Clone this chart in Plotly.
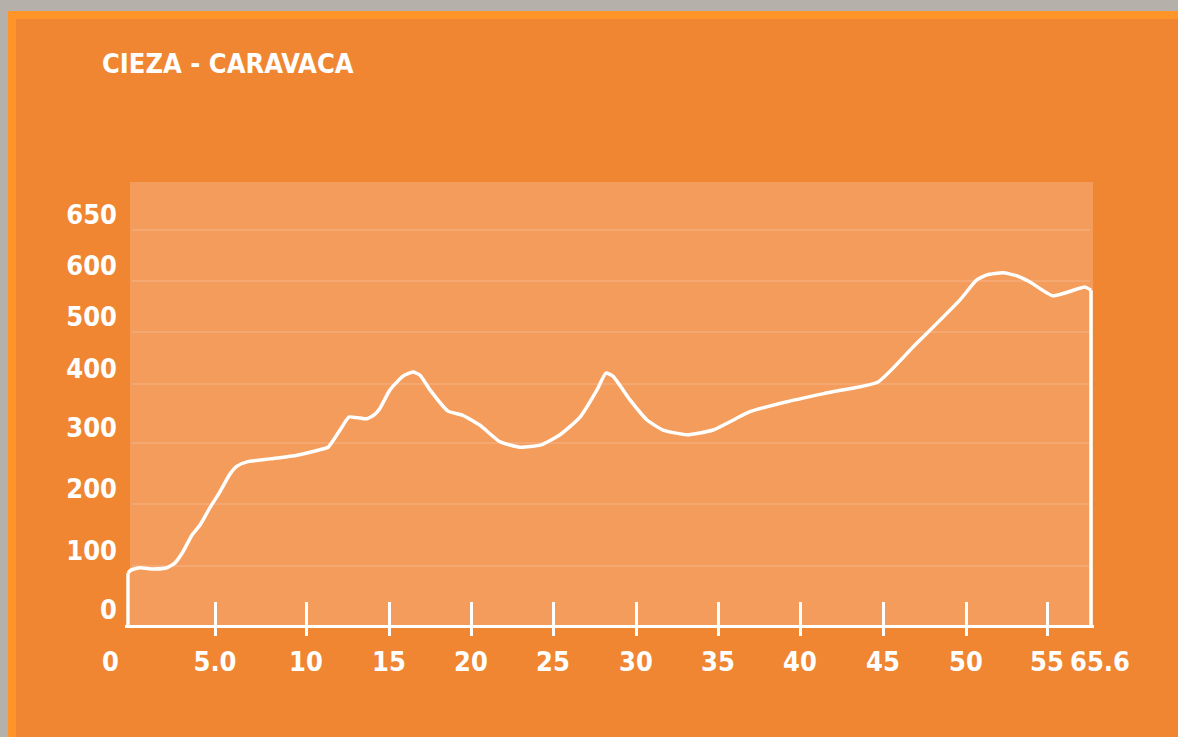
import numpy as np
import plotly.graph_objects as go

# ---------------- data ----------------
TITLE = "CIEZA - CARAVACA"

# distance (km) and elevation (m) of the route profile
KM = [0, 0, 0.17, 0.69, 1.44, 2.24, 2.70, 3.16, 3.68, 4.14, 4.71, 5.27, 5.82, 6.21, 6.76,
      8.02, 9.51, 10.84, 11.33, 12.05, 12.59, 13.07, 13.67, 14.16, 14.46, 15.06, 15.85,
      16.46, 16.89, 17.5, 18.6, 19.5, 20.55, 21.77, 22.99, 24.27, 25.42, 26.63, 27.65,
      28.19, 28.61, 29.64, 30.67, 31.65, 33.11, 34.7, 36.95, 39.21, 41.81, 44.7, 46.81,
      49.64, 50.66, 51.3, 52.28, 53.15, 53.95, 56.45, 64.16, 65.6, 65.6]
ELEV = [0, 88, 93, 97, 95, 97, 105, 123, 150, 166, 194, 220, 249, 262, 269,
        274, 280, 289, 293, 322, 344, 343, 341, 349, 359, 390, 415,
        423, 417, 390, 354, 347, 330, 302, 293, 297, 314, 344, 390,
        421, 415, 373, 339, 322, 314, 322, 353, 370, 386, 404, 471,
        563, 601, 606, 608, 605, 598, 571, 588, 582, 0]

X_TICK_KM = [0, 5, 10, 15, 20, 25, 30, 35, 40, 45, 50, 55, 65.6]
X_TICK_TEXT = ["0", "5.0", "10", "15", "20", "25", "30", "35", "40", "45", "50", "55", "65.6"]
Y_TICK_M = [0, 100, 200, 300, 400, 500, 600, 650]
Y_TICK_TEXT = ["0", "100", "200", "300", "400", "500", "600", "650"]

# ---------------- scale (the chart's own non-uniform axis scale) ----------------
W, H = 1178, 737
X_SCALE_POS = [128, 215, 306, 389, 471, 553, 636, 718, 800, 883, 966, 1047, 1091]
Y_SCALE_POS = [0, 59, 121, 182, 241, 293, 344, 395]


def sx(km):
    return np.interp(km, X_TICK_KM, X_SCALE_POS)


def sy(m):
    return np.interp(m, Y_TICK_M, Y_SCALE_POS)


# ---------------- styles ----------------
BG = "#F08632"
PLOT_BG = "#F39C5B"
BORDER = "#FF9429"
GRAY = "#B5B0AA"
GRID = "#F7B487"
WHITE = "#FFFFFF"
FONT = "Liberation Sans Narrow, DejaVu Sans Condensed, Roboto, Arial, sans-serif"
FS = 27

X0, X1 = 125, 1094        # plot area in px
YT, YB = 182, 625

fig = go.Figure()

# smooth profile curve
fig.add_trace(go.Scatter(
    x=sx(KM[1:-1]), y=sy(ELEV[1:-1]), mode="lines",
    line=dict(color=WHITE, width=3.5, shape="spline", smoothing=0.5),
    hoverinfo="skip", showlegend=False))
# straight start / end edges of the profile down to the baseline
fig.add_trace(go.Scatter(
    x=list(sx(KM[:2])) + [None] + list(sx(KM[-2:])),
    y=list(sy(ELEV[:2])) + [None] + list(sy(ELEV[-2:])),
    mode="lines", line=dict(color=WHITE, width=3.5),
    hoverinfo="skip", showlegend=False))

inner = [v for v in X_TICK_KM if 0 < v < 55.01]
fig.add_trace(go.Scatter(
    x=sx(inner), y=[0] * len(inner), xaxis="x2", mode="markers",
    marker=dict(opacity=0), hoverinfo="skip", showlegend=False))

fig.update_layout(
    template="none",
    width=W, height=H, autosize=False,
    margin=dict(l=0, r=0, t=0, b=0, pad=0, autoexpand=False),
    paper_bgcolor=BG, plot_bgcolor="rgba(0,0,0,0)",
    showlegend=False,
    title=dict(text=TITLE, x=102 / W, xanchor="left", y=1 - 64 / H, yanchor="middle",
               font=dict(family=FONT, size=27, color=WHITE, weight="bold")),
    xaxis=dict(
        domain=[X0 / W, X1 / W], range=[X0, X1], anchor="y", automargin=False,
        tickmode="array", tickvals=list(sx(inner)),
        ticktext=[t for v, t in zip(X_TICK_KM, X_TICK_TEXT) if 0 < v < 55.01],
        ticks="outside", ticklen=8, tickwidth=2.5, tickcolor=WHITE,
        showline=True, linecolor=WHITE, linewidth=3,
        showgrid=False, zeroline=False, ticklabelstandoff=3,
        tickfont=dict(family=FONT, size=FS, color=WHITE, weight="bold"),
    ),
    xaxis2=dict(
        overlaying="x", matches="x", anchor="y", side="bottom", automargin=False,
        range=[X0, X1],
        tickmode="array", tickvals=list(sx(inner)),
        ticks="inside", ticklen=23, tickwidth=2.5, tickcolor=WHITE,
        showticklabels=False, showline=False, showgrid=False, zeroline=False,
    ),
    yaxis=dict(
        domain=[1 - YB / H, 1 - YT / H], range=[0, YB - YT], automargin=False,
        tickmode="array", tickvals=list(sy(Y_TICK_M)), ticktext=Y_TICK_TEXT,
        ticks="", showline=False, zeroline=False, showgrid=False,
        ticklabelstandoff=7, ticklabelshift=-15,
        tickfont=dict(family=FONT, size=FS, color=WHITE, weight="bold"),
    ),
)

# light plot panel
fig.add_shape(type="rect", xref="x", yref="y", x0=130, x1=1093, y0=0, y1=YB - YT,
              fillcolor=PLOT_BG, line=dict(width=0), layer="below")

# horizontal grid lines at the elevation ticks, inside the panel
for m in Y_TICK_M[1:]:
    fig.add_shape(type="line", xref="x", yref="y", x0=132, x1=1090,
                  y0=float(sy(m)), y1=float(sy(m)),
                  line=dict(color=GRID, width=1.2), layer="below")


# frame: gray outer band and lighter orange border
def paper_rect(px0, py0, px1, py1, color):
    fig.add_shape(type="rect", xref="paper", yref="paper",
                  x0=px0 / W, x1=px1 / W, y0=1 - py1 / H, y1=1 - py0 / H,
                  fillcolor=color, line=dict(width=0), layer="below")


paper_rect(0, 11, W, 19, BORDER)
paper_rect(8, 11, 16, H, BORDER)
paper_rect(0, 0, W, 11, GRAY)
paper_rect(0, 0, 8, H, GRAY)

# end labels without tick marks
for km, txt, shift in [(X_TICK_KM[0], X_TICK_TEXT[0], -18), (X_TICK_KM[-1], X_TICK_TEXT[-1], 9)]:
    fig.add_annotation(x=float(sx(km)), xref="x", y=1 - 661 / H, yref="paper",
                       text=txt, showarrow=False, xshift=shift, yanchor="middle",
                       font=dict(family=FONT, size=FS, color=WHITE, weight="bold"))

fig.write_html(
    "out.html",
    config={"displayModeBar": False},
    post_script="document.body.style.margin='0';document.body.style.background='#B5B0AA';",
)
